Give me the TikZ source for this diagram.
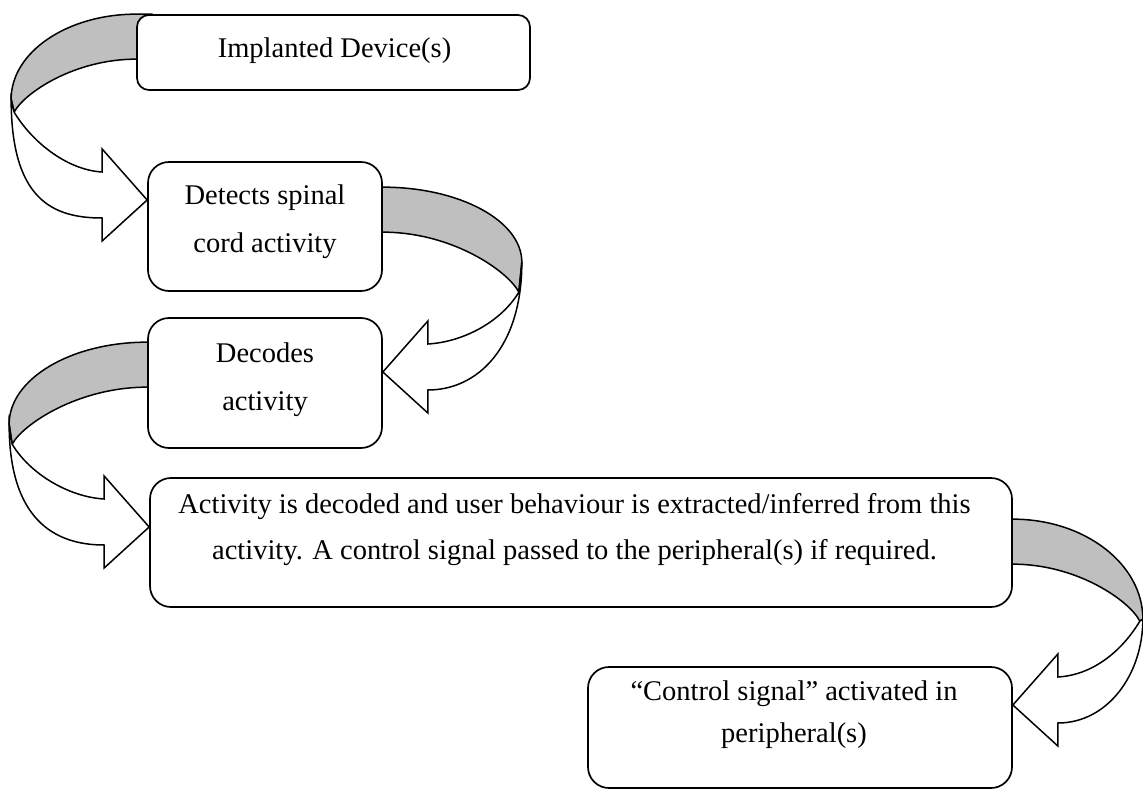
\documentclass[tikz,border=0pt]{standalone}
\usepackage{fontspec}
\setmainfont{Liberation Serif}
\usetikzlibrary{calc}
\pgfdeclarelayer{back}
\pgfsetlayers{back,main}

\tikzset{
  box/.style={draw=black, line width=1.7pt, fill=white, rounded corners=#1, inner sep=0pt},
  box/.default=21pt,
  % anchored at the baseline of the last line
  txt/.style={align=center, inner sep=0pt, anchor=base, font=\fontsize{28.5}{#1}\selectfont},
  txt/.default=46pt,
  band/.style={fill=black!25, draw=black, line width=1.5pt, line join=round},
  face/.style={fill=white, draw=black, line width=1.5pt, line join=miter, miter limit=20},
}

% Three-dimensional curved arrow: a shaded back ribbon leaving the source box
% and a white front face ending in an open head at the tip.
% #1 start of the ribbon on the source box, #2 tip on the target box,
% #3 direction (1 = bulges right, -1 = bulges left), #4 bulge depth,
% #5 drop to the turning point, #6 drop to the inner cusp, #7 stiffness of the front curve
\newcommand\ribbon[7]{%
  \path[band] let \p1=(#1) in
    ({\x1-(#3)*16pt},\y1) -- (\x1,\y1)
    .. controls ({\x1+(#3)*0.552*(#4)*1pt},\y1) and ({\x1+(#3)*(#4)*1pt},{\y1-0.448*(#5)*1pt})
    .. ({\x1+(#3)*(#4)*1pt},{\y1-(#5)*1pt})
    -- ({\x1+(#3)*((#4)-3)*1pt},{\y1-(#6)*1pt})
    .. controls ({\x1+(#3)*0.9*(#4)*1pt},{\y1-((#6)-0.35*((#6)-45))*1pt}) and ({\x1+(#3)*0.5*(#4)*1pt},{\y1-45pt})
    .. (\x1,{\y1-45pt})
    -- ({\x1-(#3)*16pt},{\y1-45pt}) -- cycle;
  \path[face] let \p1=(#1), \p2=(#2) in
    ({\x1+(#3)*(#4)*1pt},{\y1-(#5)*1pt})
    .. controls ({\x1+(#3)*(#4)*1pt},{\y1-((#5)+(#7))*1pt}) and ({\x2+(#3)*95pt},{\y2-18pt})
    .. ({\x2+(#3)*45pt},{\y2-18pt})
    -- ({\x2+(#3)*45pt},{\y2-41pt}) -- (\x2,\y2) -- ({\x2+(#3)*45pt},{\y2+51pt})
    -- ({\x2+(#3)*45pt},{\y2+28pt})
    .. controls ({\x2+(#3)*80pt},{\y2+30pt}) and ({\x1+(#3)*((#4)-21)*1pt},{\y1-((#6)+30)*1pt})
    .. ({\x1+(#3)*((#4)-3)*1pt},{\y1-(#6)*1pt})
    -- cycle;
}

\begin{document}
\begin{tikzpicture}[x=1pt, y=-1pt]
  \useasboundingbox (0,0) rectangle (1143,792);

  % boxes
  \node[box=12pt, minimum width=393, minimum height=75]  (b1) at (333.5,52.5) {};
  \node[box, minimum width=234, minimum height=129] (b2) at (265,226.5) {};
  \node[box, minimum width=234, minimum height=130] (b3) at (265,383) {};
  \node[box, minimum width=862, minimum height=129] (b4) at (581,542.5) {};
  \node[box, minimum width=424, minimum height=121] (b5) at (800,727.5) {};

  % texts
  \node[txt] (t1) at (334.5,58) {Implanted Device(s)};
  \node[txt=48pt] (t2) at (265,252) {Detects spinal\\cord activity};
  \node[txt=48pt] (t3) at (265,410) {Decodes\\activity};
  \node[txt] (t4) at (574.5,559) {Activity is decoded and user behaviour is extracted/inferred from this\\activity. A control signal passed to the peripheral(s) if required.};
  \node[txt=42pt] (t5) at (794,742) {“Control signal” activated in\\peripheral(s)};

  % start and tip of each curved arrow
  \coordinate (sA) at (b1.north west);
  \coordinate (tA) at ($(b2.west)+(0,-26.5)$);
  \coordinate (sB) at ($(b2.north east)+(0,26)$);
  \coordinate (tB) at ($(b3.east)+(0,-11)$);
  \coordinate (sC) at ($(b3.north west)+(0,25)$);
  \coordinate (tC) at ($(b4.west)+(0,-15.5)$);
  \coordinate (sD) at ($(b4.north east)+(0,42)$);
  \coordinate (tD) at ($(b5.east)+(0,-22.5)$);

  \begin{pgfonlayer}{back}
    \fill[white] (0,0) rectangle (1143,792);
    \ribbon{sA}{tA}{-1}{125}{85}{98}{100}
    \ribbon{sB}{tB}{1}{139}{75}{105}{85}
    \ribbon{sC}{tC}{-1}{138}{82}{102}{95}
    \ribbon{sD}{tD}{1}{130}{100}{102}{55}
  \end{pgfonlayer}
\end{tikzpicture}
\end{document}
